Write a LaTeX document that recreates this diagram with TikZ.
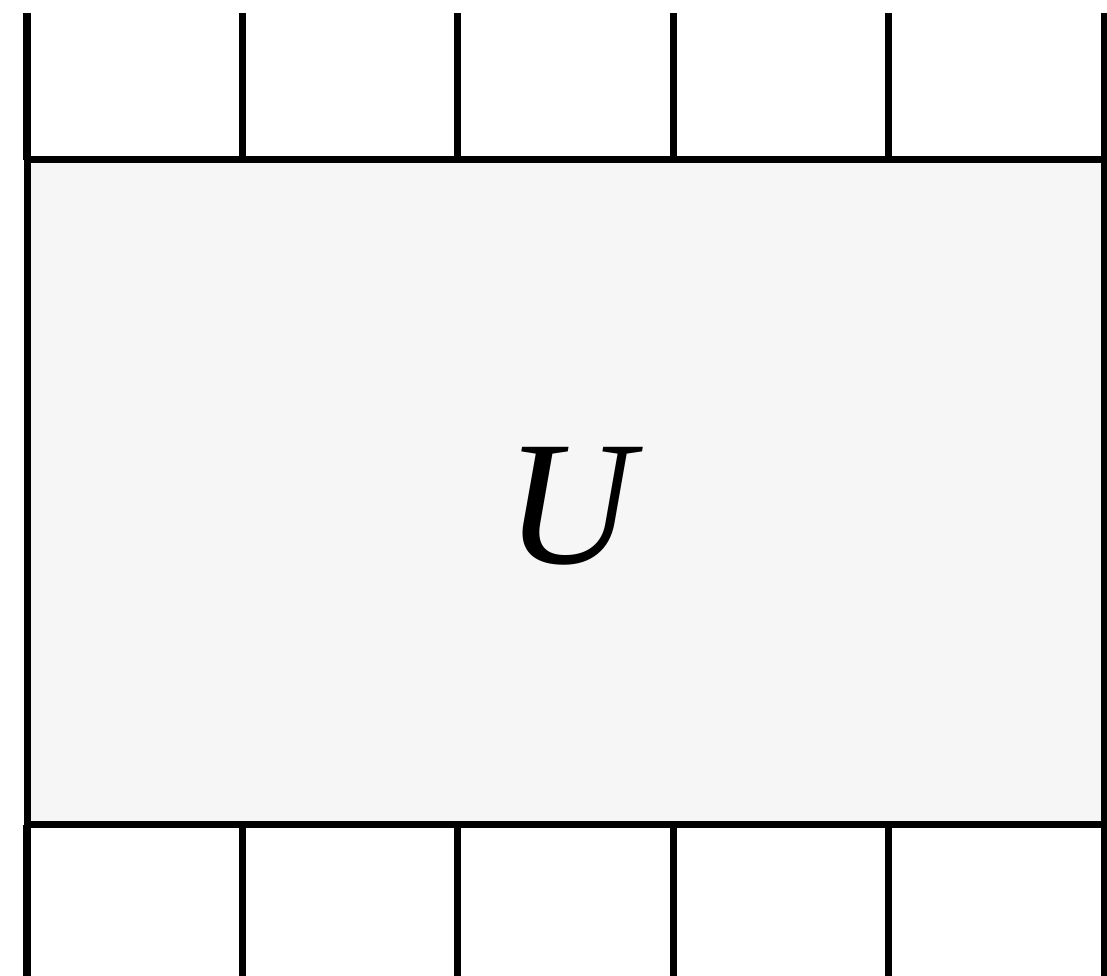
\documentclass[tikz,border=0pt]{standalone}
\usepackage{fontspec}
\setmainfont{Liberation Serif}
\usepackage{tikz}
\usetikzlibrary{positioning}

\begin{document}
\begin{tikzpicture}[line width=0.14cm, every node/.style={align=center}]
    \useasboundingbox (0,0) rectangle (22.14,19.52);
    % Unitary block
    \node[draw, outer sep=0pt, minimum width=21.54cm, minimum height=13.3cm, fill=black!3.5] (U) at (11.31,9.67) {};
    \node[font=\fontsize{101}{101}\selectfont\itshape] (lbl) at ([xshift=0.08cm, yshift=-0.28cm]U.center) {U};
    % Leg ends above the block
    \coordinate (t1) at (0.54,19.26);
    \coordinate (t2) at (4.848,19.26);
    \coordinate (t3) at (9.156,19.26);
    \coordinate (t4) at (13.464,19.26);
    \coordinate (t5) at (17.772,19.26);
    \coordinate (t6) at (22.08,19.26);
    % Leg ends below the block
    \coordinate (b1) at (0.54,-0.2);
    \coordinate (b2) at (4.848,-0.2);
    \coordinate (b3) at (9.156,-0.2);
    \coordinate (b4) at (13.464,-0.2);
    \coordinate (b5) at (17.772,-0.2);
    \coordinate (b6) at (22.08,-0.2);
    % Top legs
    \draw (t1) -- (t1 |- U.north);
    \draw (t2) -- (t2 |- U.north);
    \draw (t3) -- (t3 |- U.north);
    \draw (t4) -- (t4 |- U.north);
    \draw (t5) -- (t5 |- U.north);
    \draw (t6) -- (t6 |- U.north);
    % Bottom legs
    \draw (b1) -- (b1 |- U.south);
    \draw (b2) -- (b2 |- U.south);
    \draw (b3) -- (b3 |- U.south);
    \draw (b4) -- (b4 |- U.south);
    \draw (b5) -- (b5 |- U.south);
    \draw (b6) -- (b6 |- U.south);
\end{tikzpicture}
\end{document}
